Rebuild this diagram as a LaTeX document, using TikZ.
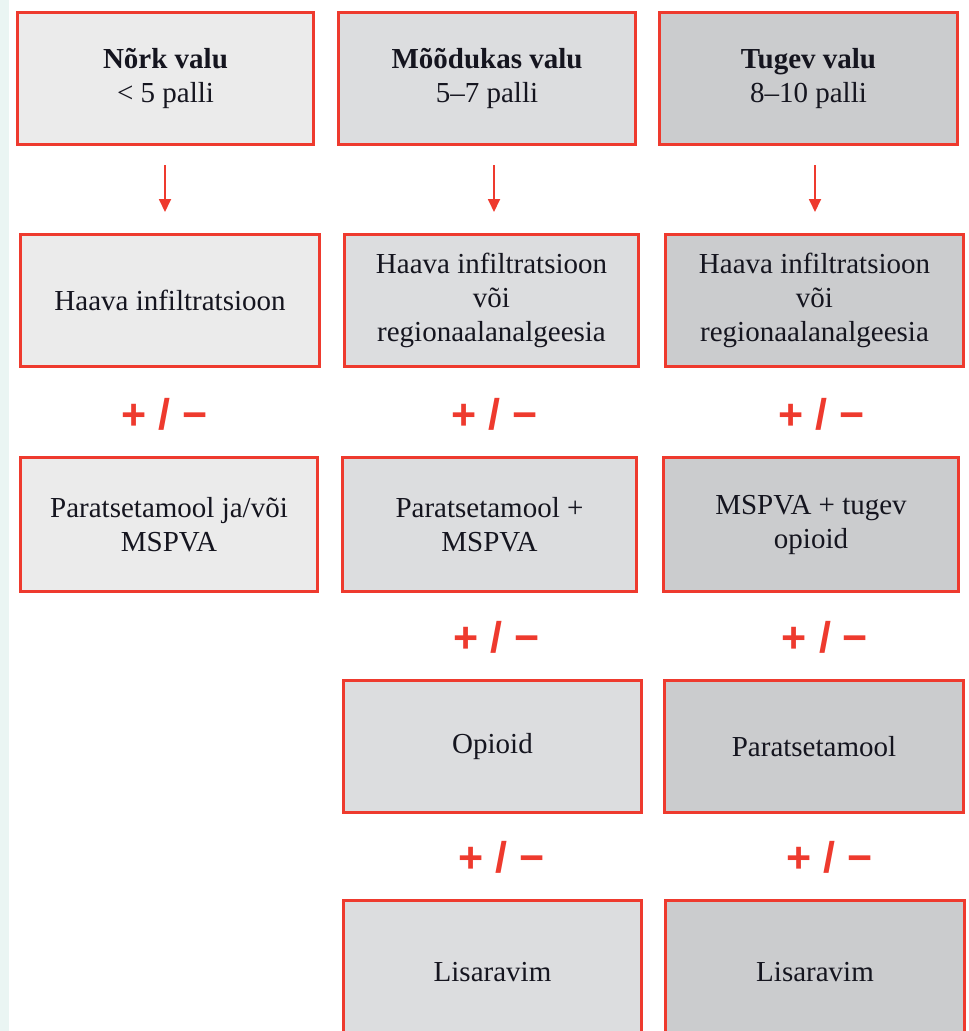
\documentclass[tikz,border=0pt]{standalone}
\usepackage{fontspec}
\setmainfont{LiberationSerif}[Extension=.ttf, UprightFont=*-Regular, BoldFont=*-Bold, ItalicFont=*-Italic, BoldItalicFont=*-BoldItalic]
\newfontfamily\pmfont{LiberationSans}[Extension=.ttf, UprightFont=*-Regular, BoldFont=*-Bold]
\definecolor{redline}{HTML}{EE3A2E}
\definecolor{fillA}{HTML}{EBEBEB}
\definecolor{fillB}{HTML}{DCDDDF}
\definecolor{fillC}{HTML}{CBCCCE}
\definecolor{txt}{HTML}{15151F}
\definecolor{edge}{HTML}{EAF5F3}
\usetikzlibrary{arrows.meta}
\begin{document}
\begin{tikzpicture}[x=1pt,y=-1pt,
  boxbase/.style={draw=redline, line width=3pt, inner sep=0pt, align=center,
    text=txt, font=\fontsize{29}{34}\selectfont, minimum height=132pt},
  boxA/.style={boxbase, fill=fillA},
  boxB/.style={boxbase, fill=fillB},
  boxC/.style={boxbase, fill=fillC},
  pm/.style={text=redline, font=\pmfont\bfseries\fontsize{43}{43}\selectfont, inner sep=0pt},
  arr/.style={draw=redline, line width=1.8pt, -{Triangle[length=13pt,width=12pt]}}
]
\useasboundingbox (0,0) rectangle (969,1031);
\clip (0,0) rectangle (969,1031);
\fill[edge] (0,0) rectangle (9,1031);
% row 1
\node[boxA, minimum width=296pt] (r1c1) at (165.5,78.5) {\textbf{Nõrk valu}\\< 5 palli};
\node[boxB, minimum width=297pt] (r1c2) at (487,78.5) {\textbf{Mõõdukas valu}\\5–7 palli};
\node[boxC, minimum width=298pt] (r1c3) at (808.5,78.5) {\textbf{Tugev valu}\\8–10 palli};
% row 2
\node[boxA, minimum width=299pt] (r2c1) at (170,300.5) {Haava infiltratsioon};
\node[boxB, minimum width=294pt] (r2c2) at (491.5,300.5) {Haava infiltratsioon\\või\\regionaalanalgeesia};
\node[boxC, minimum width=298pt] (r2c3) at (814.5,300.5) {Haava infiltratsioon\\või\\regionaalanalgeesia};
% row 3
\node[boxA, minimum width=297pt, minimum height=134pt] (r3c1) at (169,524.5) {Paratsetamool ja/või\\MSPVA};
\node[boxB, minimum width=294pt, minimum height=134pt] (r3c2) at (489.5,524.5) {Paratsetamool +\\MSPVA};
\node[boxC, minimum width=295pt, minimum height=134pt] (r3c3) at (811,524.5) {MSPVA + tugev\\opioid};
% row 4
\node[boxB, minimum width=298pt] (r4c2) at (492.5,746.5) {Opioid};
\node[boxC, minimum width=299pt] (r4c3) at (814,746.5) {Paratsetamool};
% row 5
\node[boxB, minimum width=298pt, minimum height=143pt] (r5c2) at (492.5,972) {Lisaravim};
\node[boxC, minimum width=299pt, minimum height=143pt] (r5c3) at (815,972) {Lisaravim};
% plus / minus
\node[pm] (pm1c1) at (165,414) {+ / −};
\node[pm] (pm1c2) at (495,414) {+ / −};
\node[pm] (pm1c3) at (822,414) {+ / −};
\node[pm] (pm2c2) at (497,637) {+ / −};
\node[pm] (pm2c3) at (825,637) {+ / −};
\node[pm] (pm3c2) at (502,857) {+ / −};
\node[pm] (pm3c3) at (830,857) {+ / −};
% arrows
\draw[arr] ([shift={(-0.5pt,-19pt)}]r1c1.south) -- ([shift={(-0.5pt,21pt)}]r1c1.south |- r2c1.north);
\draw[arr] ([shift={(7pt,-19pt)}]r1c2.south) -- ([shift={(7pt,21pt)}]r1c2.south |- r2c2.north);
\draw[arr] ([shift={(6.5pt,-19pt)}]r1c3.south) -- ([shift={(6.5pt,21pt)}]r1c3.south |- r2c3.north);
\end{tikzpicture}
\end{document}
